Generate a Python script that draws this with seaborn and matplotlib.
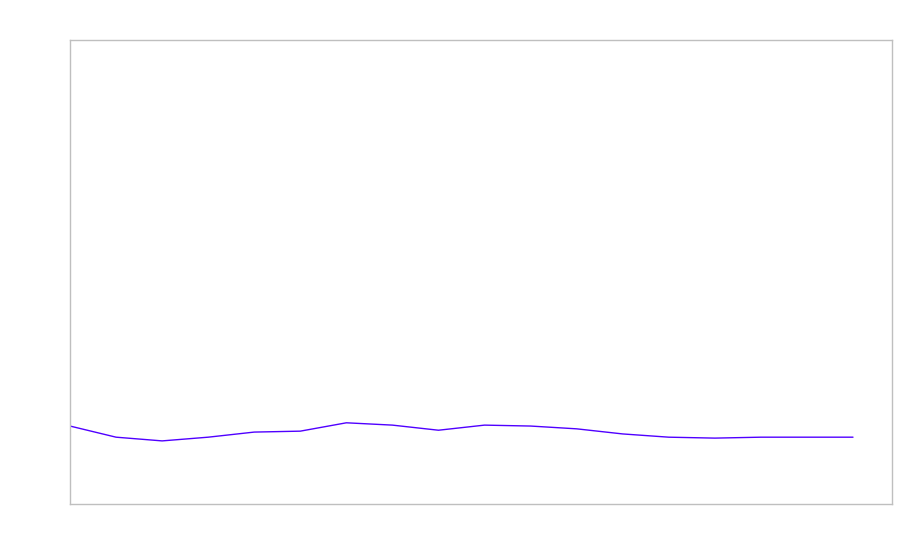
import matplotlib
matplotlib.use("Agg")
import matplotlib.pyplot as plt
import seaborn as sns
import pandas as pd

# values (y range 0-100)
steps = list(range(18))
values = [16.8, 14.4, 13.6, 14.4, 15.5, 15.7, 17.5, 17.0, 15.9,
          17.0, 16.8, 16.2, 15.1, 14.4, 14.2, 14.4, 14.4, 14.4]

df = pd.DataFrame({"step": steps, "value": values})

sns.set_style("white")
fig = plt.figure(figsize=(9, 5.6), dpi=100)
ax = fig.add_axes([70 / 900, 1 - 504 / 560, 822 / 900, 464 / 560])

sns.lineplot(data=df, x="step", y="value", color="#5000ff", linewidth=1, ax=ax)

ax.set_xlim(0, 17 * 822 / 783)
ax.set_ylim(0, 100)
ax.set_xticks([])
ax.set_yticks([])
ax.set_xlabel("")
ax.set_ylabel("")
for s in ax.spines.values():
    s.set_color("#bfbfbf")
    s.set_linewidth(1)

fig.savefig("out.png", dpi=100)
